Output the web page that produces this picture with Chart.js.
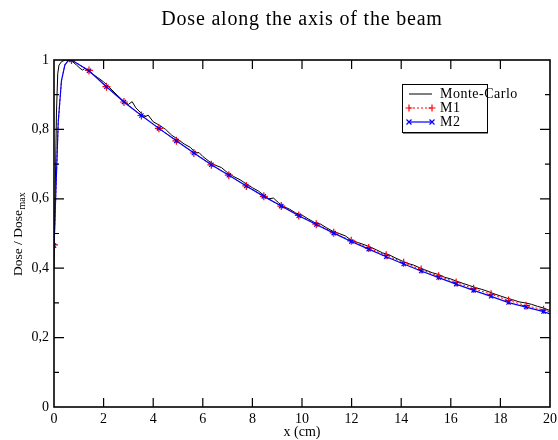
<!DOCTYPE html>
<html>
<head>
<meta charset="utf-8">
<script src="https://cdn.jsdelivr.net/npm/chart.js@4.4.1/dist/chart.umd.min.js"></script>
<style>
  html, body { margin: 0; padding: 0; background: #fff; }
  #wrap { width: 558px; height: 440px; }
</style>
</head>
<body>
<div id="wrap"><canvas id="c" width="558" height="440"></canvas></div>
<script>
// ---- Data ----
const titleText = 'Dose along the axis of the beam';
const xAxisTitle = 'x (cm)';
const seriesNames = ['Monte-Carlo', 'M1', 'M2'];

const xTickValues = [0, 2, 4, 6, 8, 10, 12, 14, 16, 18, 20];
const yTickValues = [0, 0.2, 0.4, 0.6, 0.8, 1];
const yTickLabels = ['0', '0,2', '0,4', '0,6', '0,8', '1'];

// Monte-Carlo (x, relative dose)
const mcX = [0, 0.05, 0.1, 0.15, 0.2, 0.3, 0.45, 0.6, 0.75, 0.9, 1.05, 1.15, 1.25, 1.38, 1.5, 1.75,
  2.0, 2.25, 2.5, 2.75, 3.0, 3.15, 3.3, 3.5, 3.65, 3.8, 4.0, 4.25, 4.5, 4.75, 5.0, 5.25, 5.5, 5.7, 5.85,
  6.0, 6.25, 6.5, 6.75, 7.0, 7.25, 7.5, 7.75, 8.0, 8.25, 8.5, 8.65, 8.85, 9.05, 9.25, 9.5, 9.75,
  10.0, 10.25, 10.5, 10.75, 11.0, 11.25, 11.5, 11.75, 12.0, 12.25, 12.5, 12.75, 13.0, 13.25, 13.5, 13.75,
  14.0, 14.25, 14.5, 14.75, 15.0, 15.25, 15.5, 15.75, 16.0, 16.25, 16.5, 16.75, 17.0, 17.25, 17.5, 17.75,
  18.0, 18.25, 18.5, 18.75, 19.0, 19.25, 19.5, 19.75, 20.0];
const mcY = [0.40, 0.62, 0.85, 0.96, 0.985, 0.995, 1.0, 1.0, 0.995, 0.986, 0.976, 0.971, 0.976, 0.969, 0.962, 0.950,
  0.937, 0.920, 0.902, 0.885, 0.872, 0.880, 0.862, 0.848, 0.836, 0.841, 0.822, 0.812, 0.800, 0.783, 0.771, 0.758, 0.748, 0.733, 0.733,
  0.722, 0.708, 0.697, 0.690, 0.675, 0.664, 0.655, 0.643, 0.632, 0.622, 0.608, 0.600, 0.602, 0.589, 0.578, 0.570, 0.559,
  0.553, 0.542, 0.532, 0.527, 0.516, 0.506, 0.500, 0.493, 0.480, 0.474, 0.468, 0.461, 0.453, 0.444, 0.439, 0.430,
  0.422, 0.414, 0.409, 0.401, 0.394, 0.387, 0.382, 0.374, 0.369, 0.362, 0.356, 0.350, 0.344, 0.339, 0.333, 0.326,
  0.320, 0.314, 0.309, 0.303, 0.300, 0.296, 0.290, 0.285, 0.278];

// M1 (markers every 0.705 cm, plus build-up points)
const m1X = [0, 0.08, 0.17, 0.3, 0.44, 0.56, 0.705, 1.41, 2.115, 2.82, 3.525, 4.23, 4.935, 5.64, 6.345,
  7.05, 7.755, 8.46, 9.165, 9.87, 10.575, 11.28, 11.985, 12.69, 13.395, 14.1, 14.805, 15.51, 16.215,
  16.92, 17.625, 18.33, 19.035, 19.74, 20.0];
const m1Y = [0.467, 0.63, 0.82, 0.94, 0.986, 0.997, 1.0, 0.970, 0.923, 0.879, 0.840, 0.803, 0.767, 0.732, 0.698,
  0.668, 0.637, 0.607, 0.579, 0.552, 0.527, 0.502, 0.479, 0.458, 0.437, 0.416, 0.396, 0.377, 0.359,
  0.341, 0.325, 0.307, 0.292, 0.280, 0.274];

// M2
const m2X = m1X.slice();
const m2Y = [0.465, 0.63, 0.82, 0.94, 0.986, 0.997, 1.0, 0.969, 0.923, 0.879, 0.840, 0.803, 0.767, 0.732, 0.698,
  0.668, 0.637, 0.607, 0.579, 0.551, 0.526, 0.501, 0.477, 0.455, 0.433, 0.412, 0.392, 0.373, 0.354,
  0.336, 0.319, 0.301, 0.288, 0.275, 0.268];

const markerStep = 0.705;

// ---- Build ----
function pts(xs, ys) { return xs.map((x, i) => ({ x: x, y: ys[i] })); }
function isMarker(ctx) {
  const p = ctx.raw; if (!p) return false;
  const r = p.x / markerStep;
  return Math.abs(r - Math.round(r)) < 0.01;
}
const SERIF = '"Liberation Serif", "Times New Roman", serif';

const decor = {
  id: 'decor',
  afterDraw(chart) {
    const { ctx, chartArea: a, scales } = chart;
    const xs = scales.x, ys = scales.y;
    ctx.save();
    // frame
    ctx.strokeStyle = '#000';
    ctx.lineWidth = 1.6;
    ctx.strokeRect(a.left, a.top, a.right - a.left, a.bottom - a.top);
    // inward ticks
    ctx.lineWidth = 1.2;
    ctx.beginPath();
    for (let v = 2; v < 20; v += 2) {
      const px = xs.getPixelForValue(v);
      ctx.moveTo(px, a.bottom); ctx.lineTo(px, a.bottom - 9);
      ctx.moveTo(px, a.top); ctx.lineTo(px, a.top + 9);
    }
    for (let k = 1; k < 10; k++) {
      const v = k / 10;
      const len = (k % 2 === 0) ? 10 : 5;
      const py = ys.getPixelForValue(v);
      ctx.moveTo(a.left, py); ctx.lineTo(a.left + len, py);
      ctx.moveTo(a.right, py); ctx.lineTo(a.right - len, py);
    }
    ctx.stroke();

    // title
    ctx.fillStyle = '#000';
    ctx.font = '20px ' + SERIF;
    ctx.textAlign = 'center';
    ctx.textBaseline = 'middle';
    try { ctx.letterSpacing = '0.8px'; } catch (e) {}
    ctx.fillText(titleText, 302, 20);
    try { ctx.letterSpacing = '0px'; } catch (e) {}

    // x axis title
    ctx.font = '14px ' + SERIF;
    ctx.fillText(xAxisTitle, (a.left + a.right) / 2, 432);

    // y axis title with subscript
    ctx.save();
    ctx.translate(22, 276);
    ctx.rotate(-Math.PI / 2);
    ctx.textAlign = 'left';
    ctx.textBaseline = 'alphabetic';
    ctx.font = '13.5px ' + SERIF;
    const main = 'Dose / Dose';
    ctx.fillText(main, 0, 0);
    const w = ctx.measureText(main).width;
    ctx.font = '10px ' + SERIF;
    ctx.fillText('max', w + 0.5, 3);
    ctx.restore();

    // legend
    const bx = 402, by = 84, bw = 85, bh = 48;
    ctx.fillStyle = '#fff';
    ctx.fillRect(bx, by, bw, bh);
    ctx.fillStyle = '#888';
    ctx.fillRect(bx + 1, by + bh, bw, 2);
    ctx.strokeStyle = '#000';
    ctx.lineWidth = 1;
    ctx.strokeRect(bx + 0.5, by + 0.5, bw, bh);
    const rows = [94, 108, 122];
    chart.data.datasets.forEach((ds, i) => {
      const y = rows[i];
      ctx.save();
      ctx.strokeStyle = ds.borderColor;
      ctx.lineWidth = ds.borderWidth;
      ctx.setLineDash(ds.borderDash || []);
      ctx.beginPath(); ctx.moveTo(409, y); ctx.lineTo(432, y); ctx.stroke();
      ctx.setLineDash([]);
      if (ds.legendMarker) {
        ctx.lineWidth = 1.2;
        [409, 432].forEach(mx => {
          ctx.beginPath();
          if (ds.legendMarker === 'cross') {
            ctx.moveTo(mx - 3.5, y); ctx.lineTo(mx + 3.5, y);
            ctx.moveTo(mx, y - 3.5); ctx.lineTo(mx, y + 3.5);
          } else {
            ctx.moveTo(mx - 2.5, y - 2.5); ctx.lineTo(mx + 2.5, y + 2.5);
            ctx.moveTo(mx - 2.5, y + 2.5); ctx.lineTo(mx + 2.5, y - 2.5);
          }
          ctx.stroke();
        });
      }
      ctx.restore();
      ctx.fillStyle = '#000';
      ctx.font = '14px ' + SERIF;
      ctx.textAlign = 'left';
      ctx.textBaseline = 'middle';
      try { ctx.letterSpacing = '0.5px'; } catch (e) {}
      ctx.fillText(ds.label, 440, y);
      try { ctx.letterSpacing = '0px'; } catch (e) {}
    });
    ctx.restore();
  }
};

new Chart(document.getElementById('c'), {
  type: 'line',
  data: {
    datasets: [
      {
        label: seriesNames[0], data: pts(mcX, mcY),
        borderColor: '#000', borderWidth: 1, pointRadius: 0, order: 2, tension: 0
      },
      {
        label: seriesNames[1], data: pts(m1X, m1Y),
        borderColor: '#ff0000', borderWidth: 1, borderDash: [2, 2],
        pointStyle: 'cross', pointRadius: ctx => isMarker(ctx) ? 4 : 0,
        pointBorderColor: '#ff0000', pointBorderWidth: 1.2, order: 1, legendMarker: 'cross'
      },
      {
        label: seriesNames[2], data: pts(m2X, m2Y),
        borderColor: '#0000ff', borderWidth: 1.2,
        pointStyle: 'crossRot', pointRadius: ctx => isMarker(ctx) ? 3 : 0,
        pointBorderColor: '#0000ff', pointBorderWidth: 1.2, order: 0, legendMarker: 'crossRot'
      }
    ]
  },
  options: {
    responsive: false,
    animation: false,
    devicePixelRatio: 1,
    layout: { padding: { left: 0, right: 8, top: 60, bottom: 0 } },
    plugins: { legend: { display: false }, tooltip: { enabled: false }, title: { display: false } },
    scales: {
      x: {
        type: 'linear', min: 0, max: 20,
        afterFit(s) { s.height = 33; s.paddingLeft = 0; s.paddingRight = 0; },
        afterBuildTicks(s) { s.ticks = xTickValues.map(v => ({ value: v })); },
        grid: { display: false, drawTicks: false }, border: { display: false },
        ticks: { color: '#000', font: { family: SERIF, size: 14 }, padding: 4, maxRotation: 0,
          callback: v => String(v) }
      },
      y: {
        type: 'linear', min: 0, max: 1,
        afterFit(s) { s.width = 54; s.paddingTop = 0; s.paddingBottom = 0; },
        afterBuildTicks(s) { s.ticks = yTickValues.map(v => ({ value: v })); },
        grid: { display: false, drawTicks: false }, border: { display: false },
        ticks: { color: '#000', font: { family: SERIF, size: 14 }, padding: 5,
          callback: v => { const i = yTickValues.findIndex(t => Math.abs(t - v) < 1e-9); return i >= 0 ? yTickLabels[i] : ''; } }
      }
    }
  },
  plugins: [decor]
});
</script>
</body>
</html>
